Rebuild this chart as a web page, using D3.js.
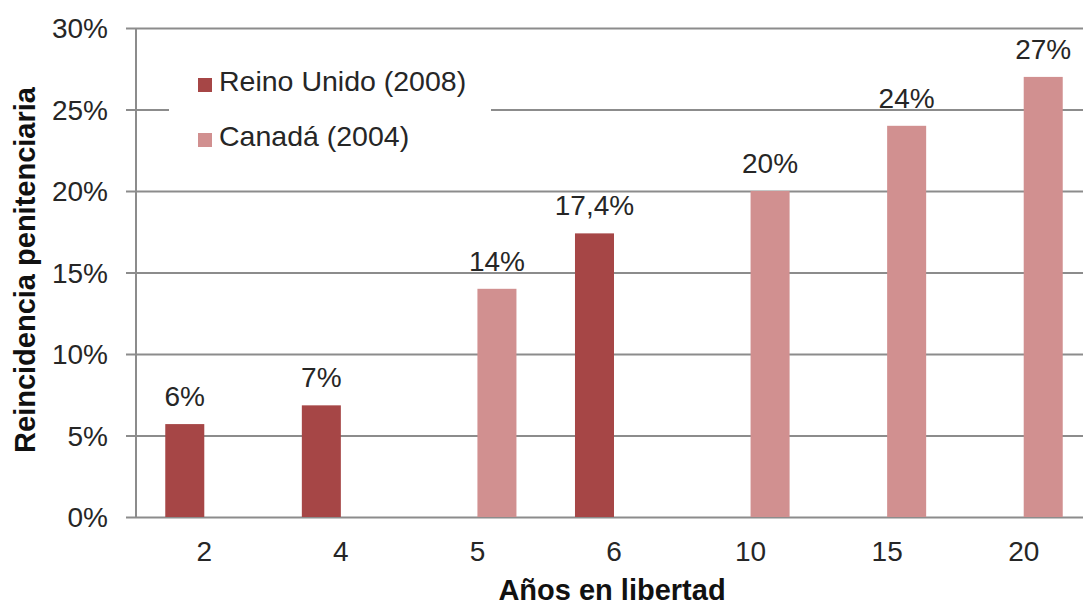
<!DOCTYPE html>
<html>
<head>
<meta charset="utf-8">
<script src="https://cdn.jsdelivr.net/npm/d3@7"></script>
<style>
  body { margin: 0; background: #fff; }
  svg { display: block; font-family: "Liberation Sans", Arial, sans-serif; }
</style>
</head>
<body>
<div id="chart"></div>
<script>
// data
var years = ["2", "4", "5", "6", "10", "15", "20"];
var series = ["Reino Unido (2008)", "Canadá (2004)"];
var reinoUnido = [5.7, 6.85, null, 17.4, null, null, null];
var canada = [null, null, 14, null, 20, 24, 27];
var reinoLabels = ["6%", "7%", "", "17,4%", "", "", ""];
var canadaLabels = ["", "", "14%", "", "20%", "24%", "27%"];
var yTicks = [0, 5, 10, 15, 20, 25, 30];

var svgWidth = 1083;
var svgHeight = 607;

var margin = { top: 28, right: -9, bottom: 90, left: 136 };
var width = svgWidth - margin.left - margin.right;
var height = svgHeight - margin.top - margin.bottom;

var colors = ["#a64646", "#d19090"];

var svg = d3.select("#chart")
  .append("svg")
  .attr("width", svgWidth)
  .attr("height", svgHeight);

var chartGroup = svg.append("g")
  .attr("transform", `translate(${margin.left}, ${margin.top})`);

var x0 = d3.scaleBand().domain(years).range([0, width]).padding(0);
var x1 = d3.scaleBand().domain(series).range([0, x0.bandwidth()])
  .paddingInner(0).paddingOuter(0.75);
var y = d3.scaleLinear().domain([0, 30]).range([height, 0]);

// gridlines + left ticks
var leftAxis = d3.axisLeft(y)
  .tickValues(yTicks)
  .tickSize(-(width + 10))
  .tickPadding(18)
  .tickFormat(d => d + "%");

var yAxis = chartGroup.append("g")
  .attr("transform", "translate(-10,0)")
  .call(leftAxis);
yAxis.select(".domain").remove();
yAxis.selectAll("line").attr("stroke", "#8c8c8c").attr("stroke-width", 2);
yAxis.selectAll("text")
  .attr("font-size", "28px")
  .attr("fill", "#262626")
  .attr("dy", "0.35em");

// vertical axis line
chartGroup.append("line")
  .attr("x1", 0).attr("x2", 0)
  .attr("y1", 0).attr("y2", height)
  .attr("stroke", "#8c8c8c")
  .attr("stroke-width", 2);

// bottom category labels
var bottomAxis = d3.axisBottom(x0).tickSize(0).tickPadding(24);
var xAxis = chartGroup.append("g")
  .attr("transform", `translate(0, ${height})`)
  .call(bottomAxis);
xAxis.select(".domain").remove();
xAxis.selectAll("text")
  .attr("font-size", "28px")
  .attr("fill", "#262626");

// bars
var table = years.map(function(d, i) {
  return { year: d, values: [
    { s: series[0], v: reinoUnido[i], label: reinoLabels[i], c: colors[0] },
    { s: series[1], v: canada[i], label: canadaLabels[i], c: colors[1] }
  ]};
});

var groups = chartGroup.selectAll(".grp")
  .data(table)
  .enter()
  .append("g")
  .attr("transform", d => `translate(${x0(d.year)},0)`);

groups.selectAll("rect")
  .data(d => d.values.filter(v => v.v !== null))
  .enter()
  .append("rect")
  .attr("x", d => x1(d.s))
  .attr("width", x1.bandwidth())
  .attr("y", d => y(d.v))
  .attr("height", d => height - y(d.v))
  .attr("fill", d => d.c);

groups.selectAll("text.lbl")
  .data(d => d.values.filter(v => v.v !== null))
  .enter()
  .append("text")
  .attr("class", "lbl")
  .attr("x", d => x1(d.s) + x1.bandwidth() / 2)
  .attr("y", d => y(d.v) - 18)
  .attr("text-anchor", "middle")
  .attr("font-size", "28px")
  .attr("fill", "#262626")
  .text(d => d.label);

// legend (white box hides gridline)
var legend = svg.append("g");
legend.append("rect")
  .attr("x", 169).attr("y", 48)
  .attr("width", 322).attr("height", 122)
  .attr("fill", "#fff");

series.forEach(function(s, i) {
  legend.append("rect")
    .attr("x", 198).attr("y", 78 + i * 55)
    .attr("width", 14).attr("height", 14)
    .attr("fill", colors[i]);
  legend.append("text")
    .attr("x", 219).attr("y", 91 + i * 55)
    .attr("font-size", "28.5px")
    .attr("fill", "#262626")
    .text(s);
});

// axis titles
svg.append("text")
  .attr("x", 612)
  .attr("y", 600)
  .attr("text-anchor", "middle")
  .attr("font-size", "29px")
  .attr("font-weight", "bold")
  .attr("fill", "#111")
  .text("Años en libertad");

svg.append("text")
  .attr("transform", "translate(35, 270) rotate(-90)")
  .attr("text-anchor", "middle")
  .attr("font-size", "29px")
  .attr("font-weight", "bold")
  .attr("fill", "#111")
  .text("Reincidencia penitenciaria");
</script>
</body>
</html>
